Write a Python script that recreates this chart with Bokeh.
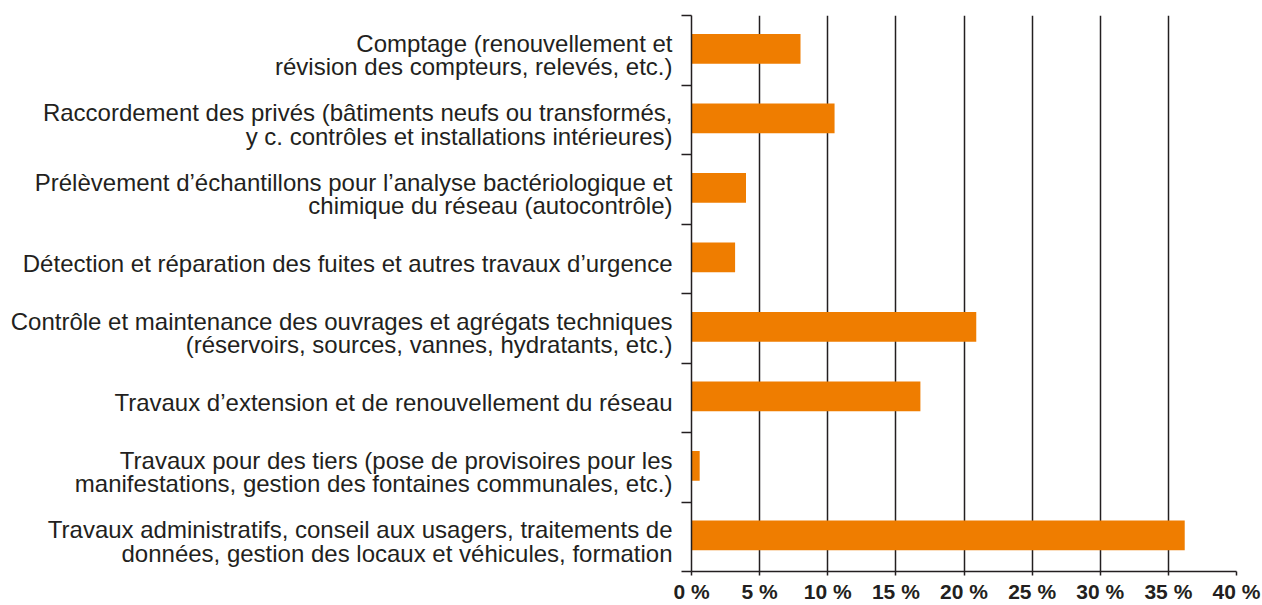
from bokeh.plotting import figure
from bokeh.models import FixedTicker, Range1d
from bokeh.embed import file_html
from bokeh.resources import INLINE

categories = [
    "Comptage (renouvellement et\nrévision des compteurs, relevés, etc.)",
    "Raccordement des privés (bâtiments neufs ou transformés,\ny c. contrôles et installations intérieures)",
    "Prélèvement d’échantillons pour l’analyse bactériologique et\nchimique du réseau (autocontrôle)",
    "Détection et réparation des fuites et autres travaux d’urgence",
    "Contrôle et maintenance des ouvrages et agrégats techniques\n(réservoirs, sources, vannes, hydratants, etc.)",
    "Travaux d’extension et de renouvellement du réseau",
    "Travaux pour des tiers (pose de provisoires pour les\nmanifestations, gestion des fontaines communales, etc.)",
    "Travaux administratifs, conseil aux usagers, traitements de\ndonnées, gestion des locaux et véhicules, formation",
]
values = [8.0, 10.5, 4.0, 3.2, 20.9, 16.8, 0.6, 36.2]
x_ticks = [0, 5, 10, 15, 20, 25, 30, 35, 40]
x_tick_labels = ["0 %", "5 %", "10 %", "15 %", "20 %", "25 %", "30 %", "35 %", "40 %"]

n = len(categories)
ypos = [n - i - 0.5 for i in range(n)]
label_pos = [y - 0.07 for y in ypos]
bar_pos = [y + 0.02 for y in ypos]

DARK = "#231f20"

p = figure(width=1262, height=605, output_backend="svg", toolbar_location=None,
           x_range=Range1d(0, 40), y_range=Range1d(0, n),
           min_border_left=691, min_border_right=26, min_border_top=15, min_border_bottom=0)
p.outline_line_color = None

p.hbar(y=bar_pos, right=values, left=0, height=0.43, color="#ef7d00", line_color=None)

# x axis
p.xaxis.ticker = FixedTicker(ticks=x_ticks)
p.xaxis.major_label_overrides = {t: l for t, l in zip(x_ticks, x_tick_labels)}
p.xaxis.major_label_text_font = "Liberation Sans"
p.xaxis.major_label_text_font_style = "bold"
p.xaxis.major_label_text_font_size = "21px"
p.xaxis.major_label_text_color = DARK
p.xaxis.axis_line_color = DARK
p.xaxis.axis_line_width = 1.5
p.xaxis.major_tick_line_color = DARK
p.xaxis.major_tick_line_width = 1.5
p.xaxis.major_tick_out = 4
p.xaxis.major_tick_in = 0
p.xaxis.minor_tick_line_color = None
p.xaxis.major_label_standoff = 4

# y axis
p.yaxis.ticker = FixedTicker(ticks=label_pos, minor_ticks=list(range(n + 1)))
p.yaxis.major_label_overrides = {y: c for y, c in zip(label_pos, categories)}
p.yaxis.major_label_text_font = "Liberation Sans"
p.yaxis.major_label_text_font_size = "24px"
p.yaxis.major_label_text_line_height = 0.88
p.yaxis.major_label_text_color = DARK
p.yaxis.major_tick_line_color = None
p.yaxis.major_tick_out = 10
p.yaxis.major_tick_in = 0
p.yaxis.minor_tick_line_color = DARK
p.yaxis.minor_tick_line_width = 1.5
p.yaxis.minor_tick_out = 10
p.yaxis.minor_tick_in = 0
p.yaxis.axis_line_color = DARK
p.yaxis.axis_line_width = 1.5
p.yaxis.major_label_standoff = 9

p.xgrid.ticker = FixedTicker(ticks=x_ticks)
p.xgrid.grid_line_color = DARK
p.xgrid.grid_line_width = 1.5
p.ygrid.grid_line_color = None

open("out.html", "w").write(file_html(p, INLINE))
